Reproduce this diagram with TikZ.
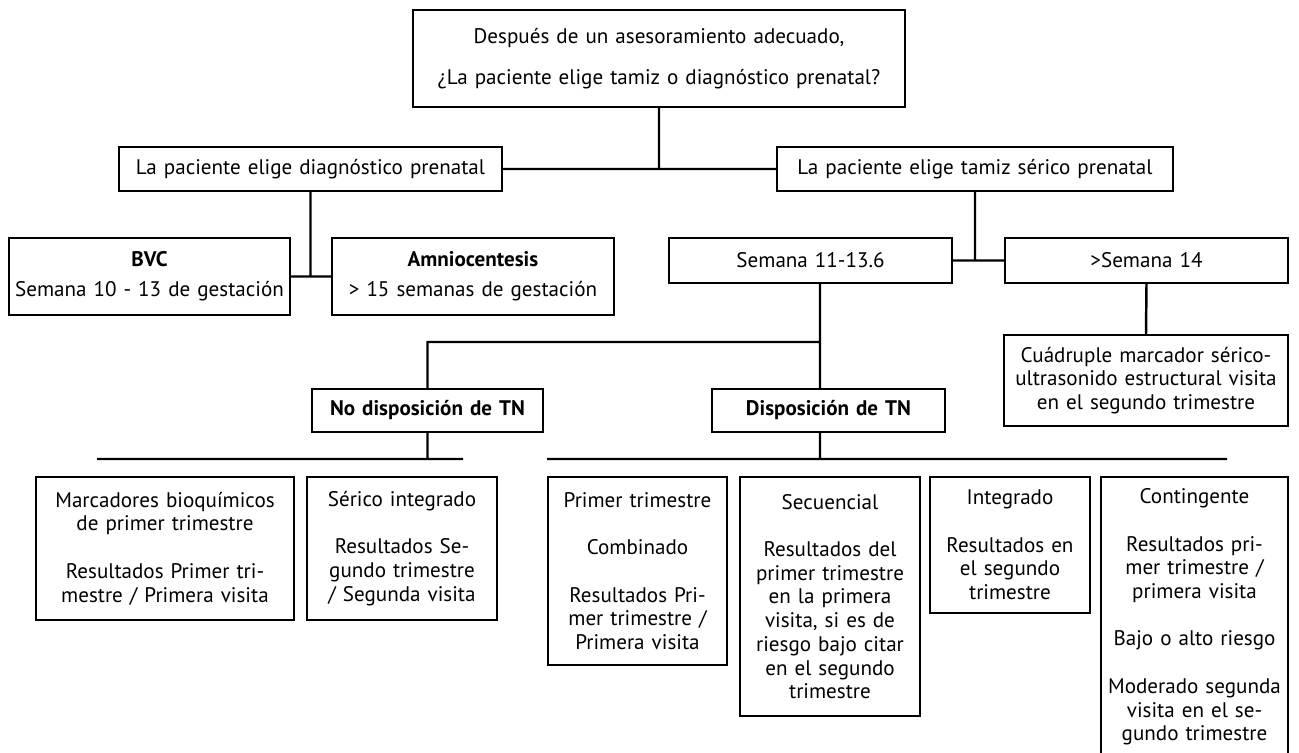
\documentclass[tikz,border=0pt]{standalone}
\usepackage{fontspec}
\setmainfont{PT Sans}

\begin{document}
\begin{tikzpicture}[x=0.02cm, y=-0.02cm,
        caja/.style={draw, line width=1.2pt, align=center, inner sep=0pt,
            font=\fontsize{12}{13.5}\selectfont},
        linea/.style={line width=1.4pt}]
    \useasboundingbox (0,0) rectangle (1299,753);

    \node [caja, text width=9.84cm, minimum height=1.94cm] (c0) at (659,58.5)
        {Después de un asesoramiento adecuado,\\[9.7pt]¿La paciente elige tamiz o diagnóstico prenatal?};
    \node [caja, text width=7.66cm, minimum height=0.88cm] (c1) at (310.5,169) {La paciente elige diagnóstico prenatal};
    \node [caja, text width=7.92cm, minimum height=0.88cm] (c2) at (975,169) {La paciente elige tamiz sérico prenatal};

    \node [caja, text width=5.62cm, minimum height=1.54cm] (c3) at (149.5,276.5)
        {\textbf{BVC}\\[3.5pt]Semana 10 - 13 de gestación};
    \node [caja, text width=5.64cm, minimum height=1.54cm] (c4) at (473,276.5)
        {\textbf{Amniocentesis}\\[3.5pt]> 15 semanas de gestación};
    \node [caja, text width=5.66cm, minimum height=0.9cm] (c5) at (810.5,260.5) {Semana 11-13.6};
    \node [caja, text width=5.66cm, minimum height=0.9cm] (c6) at (1146.5,260.5) {>Semana 14};
    \node [caja, text width=5.68cm, minimum height=1.82cm] (c7) at (1146,380.5)
        {Cuádruple marcador sérico-\\ultrasonido estructural visita\\en el segundo trimestre};

    \node [caja, text width=4.62cm, minimum height=0.86cm] (c8) at (427.5,410.5) {\textbf{No disposición de TN}};
    \node [caja, text width=4.66cm, minimum height=0.86cm] (c9) at (828.5,410.5) {\textbf{Disposición de TN}};

    \node [caja, text width=5.16cm, minimum height=2.86cm] (c10) at (165,548.5)
        {Marcadores bioquímicos\\de primer trimestre\\[13.5pt]Resultados Primer tri-\\mestre / Primera visita};
    \node [caja, text width=3.8cm, minimum height=2.86cm] (c11) at (402,548.5)
        {Sérico integrado\\[13.5pt]Resultados Se-\\gundo trimestre\\/ Segunda visita};
    \node [caja, text width=3.58cm, minimum height=3.76cm] (c12) at (637.5,571)
        {Primer trimestre\\[13.5pt]Combinado\\[13.5pt]Resultados Pri-\\mer trimestre /\\Primera visita};
    \node [caja, text width=3.6cm, minimum height=4.78cm] (c13) at (830,596.5)
        {Secuencial\\[13.5pt]Resultados del\\primer trimestre\\en la primera\\visita, si es de\\riesgo bajo citar\\en el segundo\\trimestre};
    \node [caja, text width=3.2cm, minimum height=2.72cm] (c14) at (1010,545)
        {Integrado\\[13.5pt]Resultados en\\el segundo\\trimestre};
    \node [caja, text width=3.74cm, minimum height=5.6cm] (c15) at (1194.5,617)
        {Contingente\\[13.5pt]Resultados pri-\\mer trimestre /\\primera visita\\[13.5pt]Bajo o alto riesgo\\[13.5pt]Moderado segunda\\visita en el se-\\gundo trimestre};

    \coordinate (k1) at (820,342);
    \coordinate (k2) at (97,459);
    \coordinate (k3) at (463,459);
    \coordinate (k4) at (547,459);
    \coordinate (k5) at (1227,459);

    \draw [linea]
        (c0.south) -- (c0.south |- c1.east)
        (c1.east) -- (c2.west)

        (c1.south) -- (c1.south |- c3.east)
        (c3.east) -- (c4.west)

        (c2.south) -- (c2.south |- c5.east)
        (c5.east) -- (c6.west)
        (c6.south) -- (c7.north)

        (k1 |- c5.south) -- (k1 |- c9.north)
        (k1) -- (k1 -| c8.north) -- (c8.north)

        (c8.south) -- (c8.south |- k2)
        (k2) -- (k3)
        (k1 |- c9.south) -- (k1 |- k4)
        (k4) -- (k5)
        ;
\end{tikzpicture}
\end{document}
